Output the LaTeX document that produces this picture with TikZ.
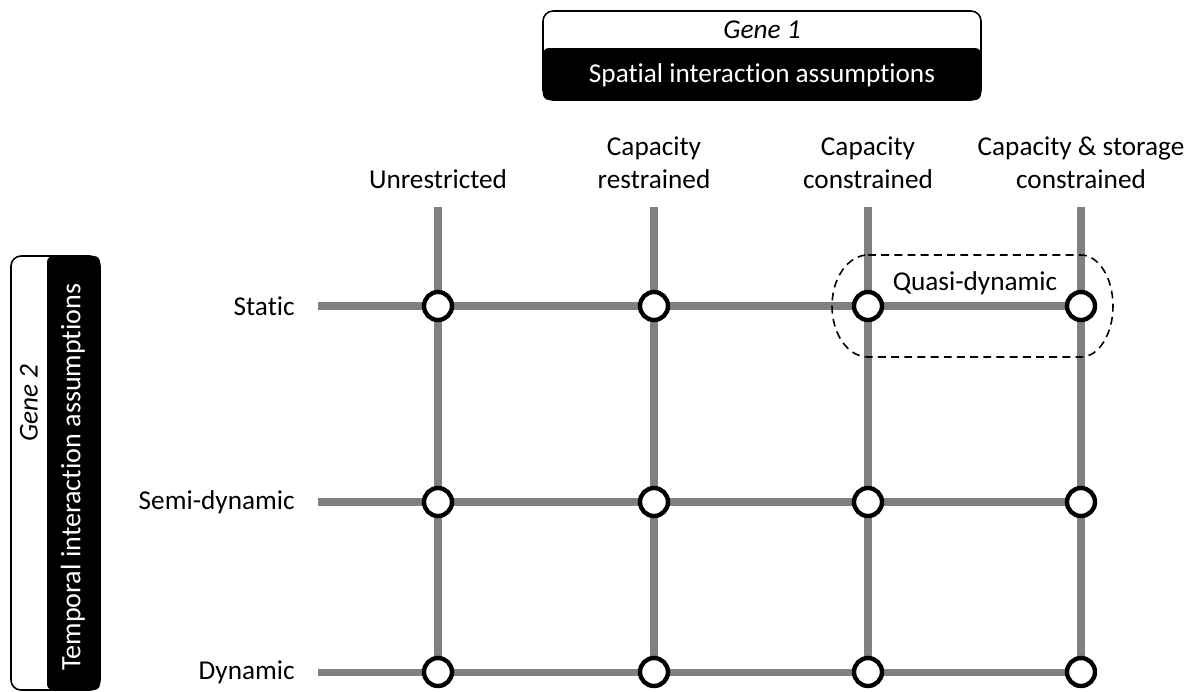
\documentclass[tikz,border=0pt]{standalone}
\usepackage{fontspec}
\setmainfont{Carlito}[Ligatures={NoCommon,NoDiscretionary,NoContextual}]
\usetikzlibrary{positioning}

\tikzset{
  gridline/.style={draw=black!50, line width=4pt},
  junction/.style={circle, draw=black, fill=white, line width=2.5pt, minimum size=0.56cm, inner sep=0pt},
  lightframe/.style={draw=black, fill=white, line width=0.9pt, rounded corners=0.2cm},
  darkband/.style={fill=black, rounded corners=0.12cm},
  quasiframe/.style={draw=black, line width=0.9pt, dash pattern=on 4.5pt off 3pt},
  axislabel/.style={inner sep=0pt, align=center},
}

\begin{document}
\begin{tikzpicture}[x=0.02cm, y=-0.02cm, every node/.style={font=\fontsize{15.5}{18.7}\selectfont}]
  \useasboundingbox (0,0) rectangle (1197,691);

  % Gene 1 box on top
  \draw[lightframe] (543,11) rectangle (981,100);
  \fill[darkband] (543,48) rectangle (981,100);
  \node (gene1) at (762,30) {\itshape Gene 1};
  \node[text=white] (spatial) at (762,75) {Spatial interaction assumptions};

  % Gene 2 box on the left
  \draw[lightframe] (11,256) rectangle (100,690);
  \fill[darkband] (47,256) rectangle (100,690);
  \node[rotate=90] (gene2) at (29,403) {\itshape Gene 2};
  \node[rotate=90, text=white, font=\fontsize{16}{19}\selectfont] (temporal) at (73,477) {Temporal interaction assumptions};

  % grid points
  \foreach \x/\c in {438/1,654/2,868/3,1081/4}
  {
    \coordinate (top-\c) at (\x,207);
    \foreach \y/\r in {306/1,502/2,672/3}
      \coordinate (p-\c-\r) at (\x,\y);
  }
  \foreach \y/\r in {306/1,502/2,672/3}
    \coordinate (start-\r) at (318,\y);

  % grey lines
  \foreach \c in {1,...,4}
    \draw[gridline] (top-\c) -- (p-\c-3);
  \foreach \r in {1,2,3}
    \draw[gridline] (start-\r) -- (p-4-\r);

  % quasi-dynamic frame
  \draw[quasiframe] (868,255) -- (1081,255)
    arc[start angle=-90, end angle=90, x radius=32, y radius=51]
    -- (868,357)
    arc[start angle=90, end angle=270, x radius=36, y radius=51] -- cycle;
  \node (quasi) at (975,283) {Quasi-dynamic};

  % circles on the crossings
  \foreach \c in {1,...,4}
    \foreach \r in {1,2,3}
      \node[junction] (n-\c-\r) at (p-\c-\r) {};

  % column labels
  \node[axislabel, anchor=south] (col1) at (438,189) {Unrestricted};
  \node[axislabel, anchor=south] (col2) at (654,189) {Capacity\\restrained};
  \node[axislabel, anchor=south] (col3) at (868,189) {Capacity\\constrained};
  \node[axislabel, anchor=south] (col4) at (1081,189) {Capacity \& storage\\constrained};

  % row labels
  \node[axislabel, anchor=east] (row1) at (295,306) {Static};
  \node[axislabel, anchor=east] (row2) at (295,502) {Semi-dynamic};
  \node[axislabel, anchor=east] (row3) at (295,672) {Dynamic};
\end{tikzpicture}
\end{document}
